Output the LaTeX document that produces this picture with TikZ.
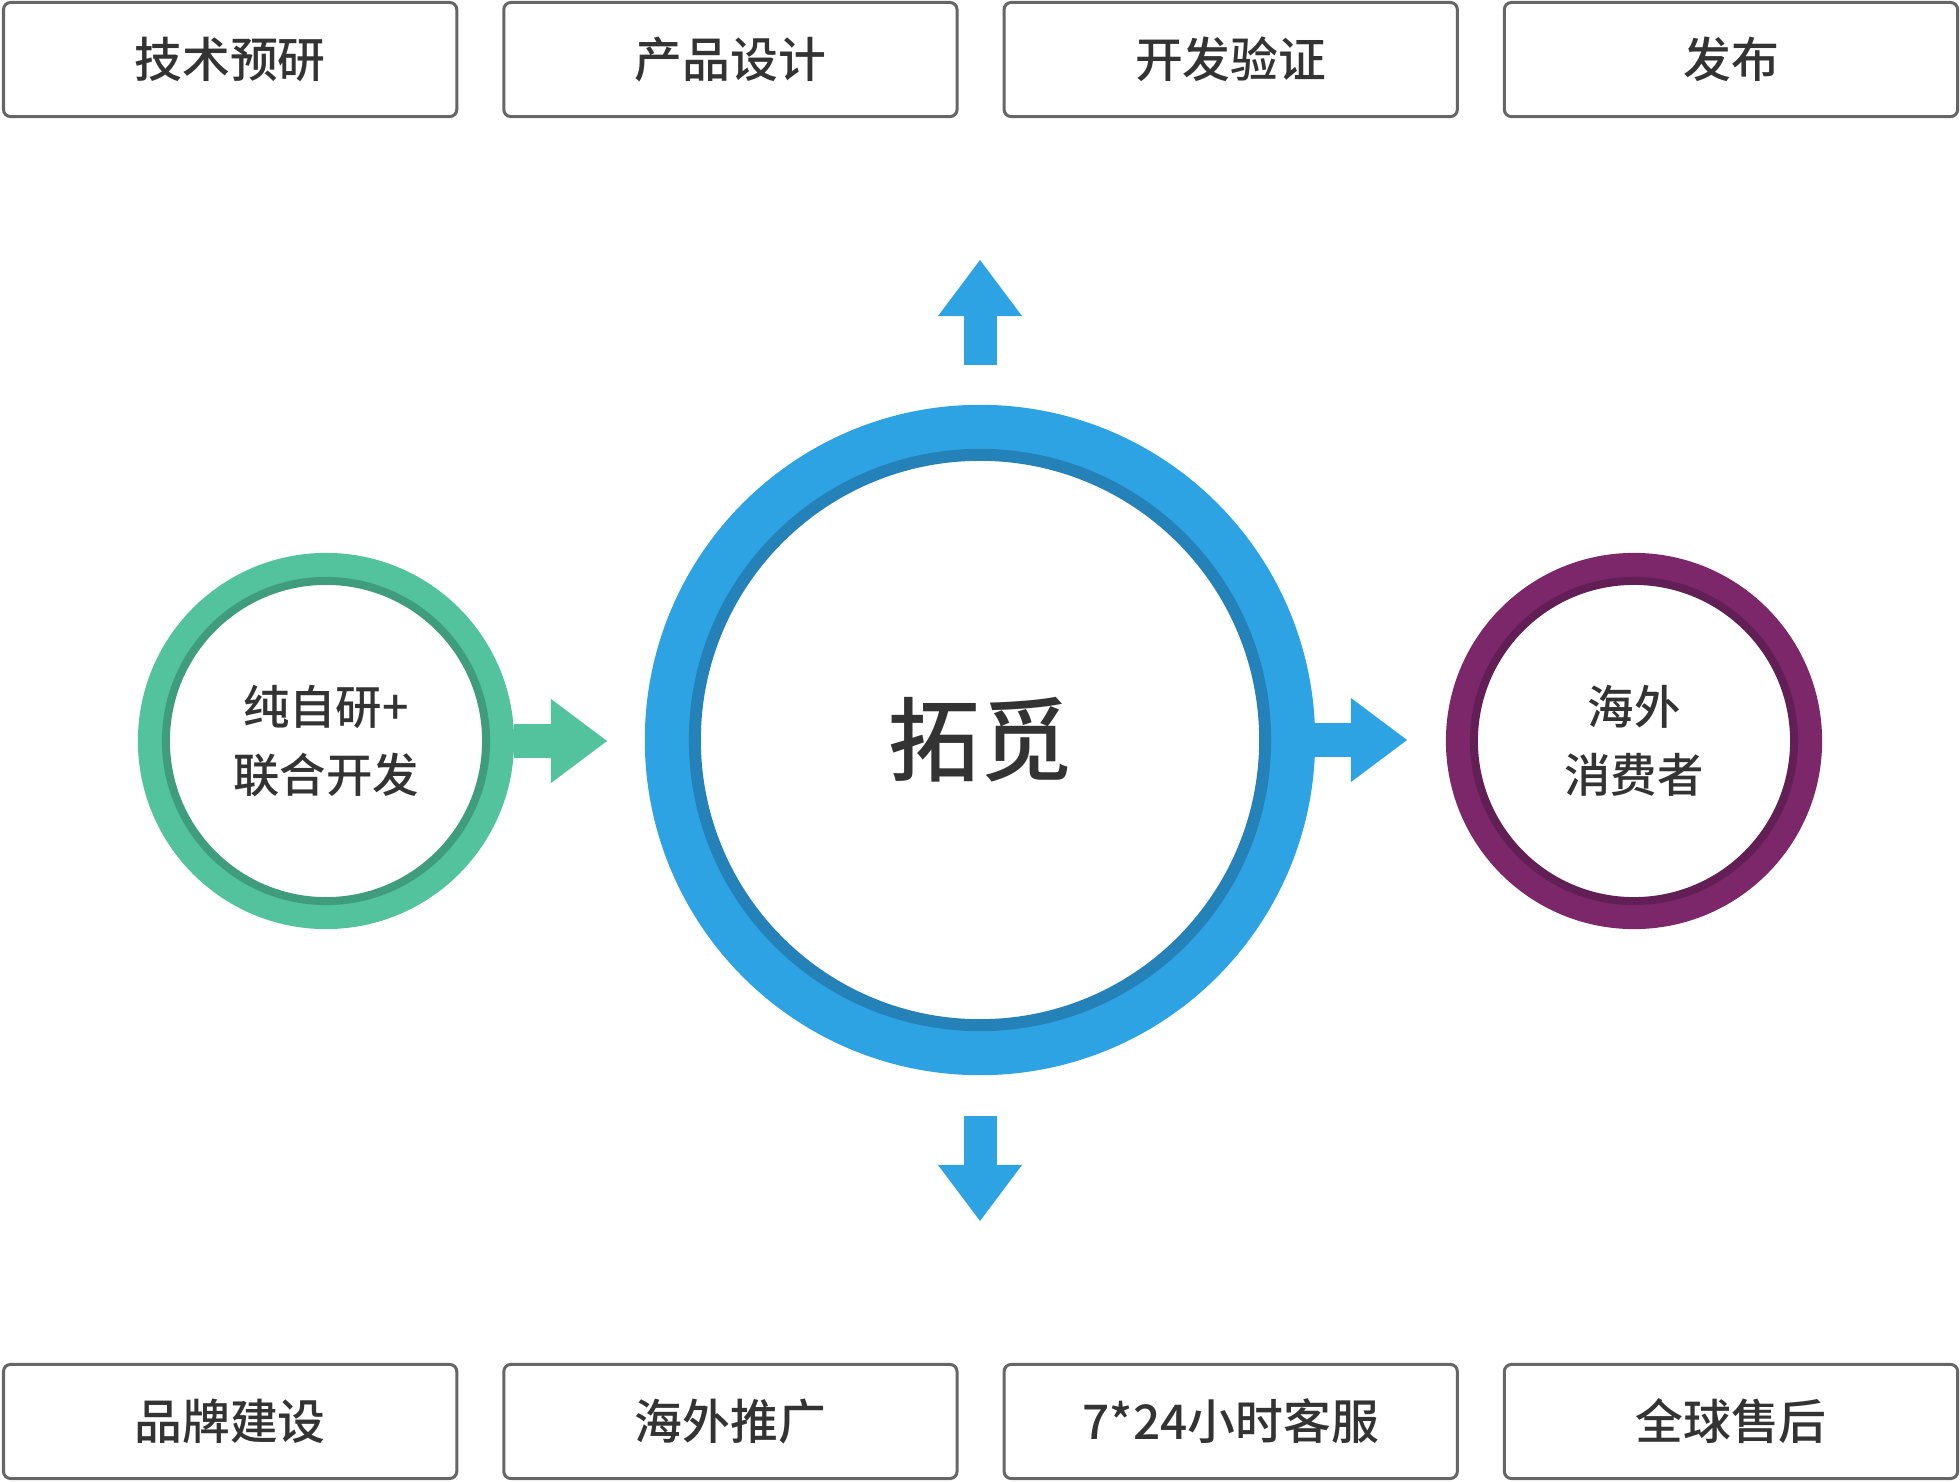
\documentclass[tikz,border=0pt]{standalone}
\usepackage{fontspec}
\setmainfont{Noto Sans CJK SC}[BoldFont={* Medium}]
\usetikzlibrary{arrows.meta}

\definecolor{ringBlue}{HTML}{2EA3E3}
\definecolor{ringBlueDark}{HTML}{2582B9}
\definecolor{ringGreen}{HTML}{52C39C}
\definecolor{ringGreenDark}{HTML}{3F9C7D}
\definecolor{ringPurple}{HTML}{7B276A}
\definecolor{ringPurpleDark}{HTML}{621F55}
\definecolor{textGray}{HTML}{333333}
\definecolor{boxGray}{HTML}{666666}

\begin{document}
\begin{tikzpicture}[x=0.01cm, y=-0.01cm,
	box/.style={draw=boxGray, line width=0.03cm, rounded corners=0.07cm, fill=white, minimum width=4.53cm, minimum height=1.14cm, inner sep=0pt, outer sep=0pt, text=textGray, font=\fontsize{13.6pt}{16pt}\selectfont\bfseries},
	smallring/.style 2 args={circle, fill=white, draw=#2, line width=0.08cm, minimum size=3.2cm, inner sep=0pt, outer sep=0.28cm, preaction={draw=#1, line width=0.56cm}, text=textGray, align=center, font=\fontsize{13.2pt}{19.4pt}\selectfont\bfseries},
	bigring/.style={circle, fill=white, draw=ringBlueDark, line width=0.12cm, minimum size=5.7cm, inner sep=0pt, outer sep=0.5cm, preaction={draw=ringBlue, line width=1cm}, text=textGray, font=\fontsize{26pt}{30pt}\selectfont\bfseries},
	blockarrow/.style={draw=#1, line width=0.33cm, -{Triangle[width=0.84cm, length=0.56cm, line width=0pt]}}
]

	\useasboundingbox (0,0) rectangle (1960,1482);

	\node[box, anchor=north west] at (3.5,2.5) (T1) {技术预研};
	\node[box, anchor=west] at ([xshift=0.47cm]T1.east) (T2) {产品设计};
	\node[box, anchor=west] at ([xshift=0.47cm]T2.east) (T3) {开发验证};
	\node[box, anchor=west] at ([xshift=0.47cm]T3.east) (T4) {发布};

	\node[box, anchor=south west] at (3.5,1478.5) (B1) {品牌建设};
	\node[box, anchor=west] at ([xshift=0.47cm]B1.east) (B2) {海外推广};
	\node[box, anchor=west] at ([xshift=0.47cm]B2.east) (B3) {7*24小时客服};
	\node[box, anchor=west] at ([xshift=0.47cm]B3.east) (B4) {全球售后};

	\node[bigring] at (980,740) (TuoMi) {拓觅};
	\node[smallring={ringGreen}{ringGreenDark}] at (326,741) (Dev) {纯自研+\\联合开发};
	\node[smallring={ringPurple}{ringPurpleDark}] at (1634,741) (Users) {海外\\消费者};

	\coordinate (DevTip) at (607,741);
	\coordinate (UsersTip) at (1407,740);
	\coordinate (UpTip) at (980,260);
	\coordinate (DownTip) at (980,1221);

	\draw[blockarrow=ringGreen] (Dev.east) -- (DevTip);
	\draw[blockarrow=ringBlue] (TuoMi.east) -- (UsersTip);
	\draw[blockarrow=ringBlue] ([yshift=0.4cm]TuoMi.north) -- (UpTip);
	\draw[blockarrow=ringBlue] ([yshift=-0.41cm]TuoMi.south) -- (DownTip);

\end{tikzpicture}
\end{document}
